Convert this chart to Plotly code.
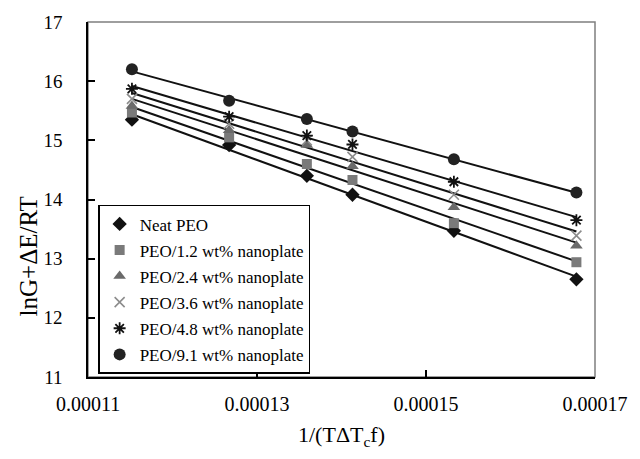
import numpy as np
import plotly.graph_objects as go

# Abscissa: 1/(T*dTc*f)
inv_t = [0.0001152, 0.0001267, 0.0001359, 0.0001413, 0.0001533, 0.0001678]

# lnG + dE/RT for each sample
neat_peo = [15.35, 14.92, 14.40, 14.08, 13.47, 12.65]
peo_1_2 = [15.47, 15.05, 14.60, 14.33, 13.60, 12.94]
peo_2_4 = [15.58, 15.17, 14.92, 14.56, 13.87, 13.22]
peo_3_6 = [15.70, 15.28, 15.00, 14.72, 14.08, 13.39]
peo_4_8 = [15.87, 15.40, 15.08, 14.93, 14.30, 13.65]
peo_9_1 = [16.20, 15.67, 15.36, 15.15, 14.68, 14.12]

series_names = [
    "Neat PEO",
    "PEO/1.2 wt% nanoplate",
    "PEO/2.4 wt% nanoplate",
    "PEO/3.6 wt% nanoplate",
    "PEO/4.8 wt% nanoplate",
    "PEO/9.1 wt% nanoplate",
]
series_values = [neat_peo, peo_1_2, peo_2_4, peo_3_6, peo_4_8, peo_9_1]

x_ticks = [0.00011, 0.00013, 0.00015, 0.00017]
x_ticktext = ["0.00011", "0.00013", "0.00015", "0.00017"]
y_ticks = [11, 12, 13, 14, 15, 16, 17]

marker_styles = [
    dict(symbol="diamond", size=11, color="#111111"),
    dict(symbol="square", size=10, color="#7a7a7a"),
    dict(symbol="triangle-up", size=11, color="#6a6a6a"),
    dict(symbol="x-thin-open", size=10, color="#8c8c8c", line=dict(width=1.6, color="#8c8c8c")),
    dict(symbol="asterisk-open", size=10, color="#111111", line=dict(width=1.8, color="#111111")),
    dict(symbol="circle", size=12, color="#222222"),
]

FONT = "Liberation Serif, Times New Roman, serif"

fig = go.Figure()

# Linear fit lines for every sample
xs = np.array(inv_t)
for name, vals in zip(series_names, series_values):
    slope, icpt = np.polyfit(xs, np.array(vals), 1)
    xl = np.array([xs.min(), xs.max()])
    fig.add_trace(go.Scatter(
        x=xl, y=slope * xl + icpt, mode="lines",
        line=dict(color="#111111", width=2),
        showlegend=False, hoverinfo="skip",
    ))

# Measured points
for name, vals, mk in zip(series_names, series_values, marker_styles):
    fig.add_trace(go.Scatter(
        x=inv_t, y=vals, mode="markers", name=name,
        legendgroup=name, marker=mk,
    ))

fig.update_layout(
    width=640, height=459,
    margin=dict(l=88, r=36, t=21, b=82),
    paper_bgcolor="white", plot_bgcolor="white",
    font=dict(family=FONT, color="black"),
    showlegend=True,
    legend=dict(
        x=0.02, y=0.485, xanchor="left", yanchor="top",
        bgcolor="white", bordercolor="black", borderwidth=1.5,
        font=dict(family=FONT, size=17, color="black"),
        tracegroupgap=1, itemwidth=30,
    ),
    shapes=[dict(
        type="rect", xref="paper", yref="paper", x0=0, y0=0, x1=1, y1=1,
        line=dict(color="#7f7f7f", width=1.5), layer="below",
    )],
    annotations=[
        dict(text="lnG+ΔE/RT", xref="paper", yref="paper",
             x=-0.118, y=0.34, textangle=-90, showarrow=False,
             xanchor="center", yanchor="middle",
             font=dict(family=FONT, size=25, color="black")),
        dict(text="1/(TΔT<sub>c</sub>f)", xref="paper", yref="paper",
             x=0.5, y=-0.165, showarrow=False,
             xanchor="center", yanchor="middle",
             font=dict(family=FONT, size=22, color="black")),
    ],
)

fig.update_xaxes(
    range=[0.00011, 0.00017], tickvals=x_ticks, ticktext=x_ticktext,
    showgrid=False, zeroline=False,
    showline=True, linecolor="black", linewidth=1.5,
    ticks="inside", ticklen=7, tickcolor="black", tickwidth=1.5,
    tickfont=dict(family=FONT, size=20, color="black"),
    ticklabelstandoff=8,
)
fig.update_yaxes(
    range=[11, 17], tickvals=y_ticks,
    showgrid=False, zeroline=False,
    showline=True, linecolor="black", linewidth=1.5,
    ticks="inside", ticklen=7, tickcolor="black", tickwidth=1.5,
    tickfont=dict(family=FONT, size=19, color="black"),
    ticklabelstandoff=20,
)

fig.write_html("out.html")
